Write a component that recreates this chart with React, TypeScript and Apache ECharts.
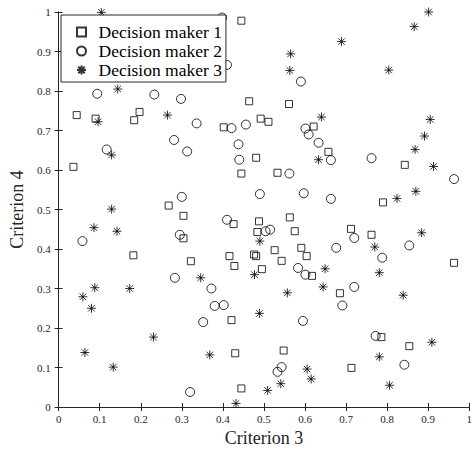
import React, { useEffect, useRef } from "react";
import * as echarts from "echarts";

const seriesNames = ["Decision maker 1", "Decision maker 2", "Decision maker 3"];

const maker1: number[][] = [
  [0.445, 0.978], [0.044, 0.739], [0.09, 0.73], [0.184, 0.726], [0.197, 0.747],
  [0.036, 0.608], [0.464, 0.774], [0.402, 0.708], [0.445, 0.591], [0.268, 0.51],
  [0.561, 0.767], [0.492, 0.73], [0.511, 0.722], [0.621, 0.71], [0.481, 0.631],
  [0.657, 0.646], [0.533, 0.593], [0.843, 0.613], [0.79, 0.518], [0.304, 0.484],
  [0.304, 0.427], [0.426, 0.463], [0.182, 0.384], [0.322, 0.369], [0.416, 0.382],
  [0.428, 0.357], [0.421, 0.22], [0.43, 0.136], [0.445, 0.047], [0.488, 0.47],
  [0.563, 0.48], [0.484, 0.443], [0.575, 0.445], [0.712, 0.451], [0.762, 0.436],
  [0.476, 0.386], [0.481, 0.382], [0.526, 0.397], [0.591, 0.403], [0.604, 0.382],
  [0.543, 0.37], [0.495, 0.349], [0.617, 0.332], [0.963, 0.365], [0.685, 0.288],
  [0.786, 0.177], [0.854, 0.154], [0.548, 0.143], [0.713, 0.099],
];

const maker2: number[][] = [
  [0.398, 0.986], [0.41, 0.866], [0.094, 0.793], [0.233, 0.791], [0.298, 0.78],
  [0.336, 0.718], [0.281, 0.676], [0.313, 0.647], [0.117, 0.652], [0.421, 0.706],
  [0.456, 0.715], [0.438, 0.665], [0.44, 0.626], [0.3, 0.532], [0.59, 0.824],
  [0.601, 0.705], [0.609, 0.69], [0.633, 0.669], [0.663, 0.625], [0.762, 0.63],
  [0.562, 0.591], [0.49, 0.539], [0.597, 0.541], [0.663, 0.527], [0.963, 0.577],
  [0.058, 0.42], [0.295, 0.436], [0.41, 0.474], [0.283, 0.327], [0.372, 0.3],
  [0.38, 0.256], [0.402, 0.258], [0.352, 0.215], [0.32, 0.038], [0.504, 0.445],
  [0.515, 0.449], [0.72, 0.428], [0.676, 0.403], [0.854, 0.409], [0.788, 0.378],
  [0.583, 0.352], [0.601, 0.335], [0.72, 0.304], [0.691, 0.257], [0.595, 0.218],
  [0.772, 0.18], [0.842, 0.107], [0.543, 0.101], [0.533, 0.089],
];

const maker3: number[][] = [
  [0.104, 0.999], [0.144, 0.805], [0.096, 0.722], [0.265, 0.739], [0.129, 0.638],
  [0.901, 1.0], [0.866, 0.963], [0.689, 0.925], [0.565, 0.894], [0.563, 0.852],
  [0.804, 0.853], [0.64, 0.734], [0.905, 0.728], [0.891, 0.686], [0.868, 0.652],
  [0.633, 0.626], [0.913, 0.609], [0.87, 0.546], [0.824, 0.528], [0.129, 0.501],
  [0.086, 0.454], [0.142, 0.445], [0.059, 0.279], [0.088, 0.302], [0.08, 0.25],
  [0.173, 0.3], [0.231, 0.177], [0.064, 0.138], [0.133, 0.101], [0.346, 0.327],
  [0.368, 0.132], [0.432, 0.009], [0.884, 0.441], [0.49, 0.42], [0.77, 0.405],
  [0.477, 0.335], [0.649, 0.35], [0.781, 0.34], [0.644, 0.304], [0.557, 0.289],
  [0.839, 0.283], [0.489, 0.237], [0.909, 0.164], [0.781, 0.127], [0.605, 0.096],
  [0.615, 0.071], [0.541, 0.059], [0.509, 0.042], [0.806, 0.055],
];

const xTickLabels = ["0", "0.1", "0.2", "0.3", "0.4", "0.5", "0.6", "0.7", "0.8", "0.9", "1"];
const yTickLabels = ["0", "0.1", "0.2", "0.3", "0.4", "0.5", "0.6", "0.7", "0.8", "0.9", "1"];

const FONT = "Liberation Serif";
const SQUARE = "path://M0,0L10,0L10,10L0,10Z";
const CIRCLE = "path://M10,5A5,5,0,1,1,0,5A5,5,0,1,1,10,5Z";
const ASTERISK =
  "path://M0,-5L0,5M-5,0L5,0M-3.6,-3.6L3.6,3.6M-3.6,3.6L3.6,-3.6";

export default function App() {
  const ref = useRef<HTMLDivElement>(null);
  useEffect(() => {
    if (!ref.current) return;
    const chart = echarts.init(ref.current, undefined, { renderer: "svg" });
    const axisLine = { show: true, lineStyle: { color: "#262626", width: 1 } };
    const tickStyle = { show: true, inside: true, length: 4, lineStyle: { color: "#262626", width: 1 } };
    const fmtX = (v: number) => xTickLabels[Math.round(v * 10)] ?? "";
    const fmtY = (v: number) => yTickLabels[Math.round(v * 10)] ?? "";
    const markerStyle = { color: "transparent", borderColor: "#000", borderWidth: 1 };
    chart.setOption({
      animation: false,
      backgroundColor: "#fff",
      grid: { left: 56, right: 1, top: 12, bottom: 43, containLabel: false },
      legend: {
        orient: "vertical",
        left: 61,
        top: 15,
        data: seriesNames,
        backgroundColor: "#fff",
        borderColor: "#262626",
        borderWidth: 1,
        borderRadius: 0,
        padding: [8, 4, 3, 15],
        itemGap: 1,
        itemWidth: 24,
        itemHeight: 9,
        textStyle: { fontFamily: FONT, fontSize: 17.5, color: "#000" },
      },
      xAxis: [
        {
          type: "value", min: 0, max: 1, interval: 0.1, position: "bottom",
          axisLine, axisTick: tickStyle, splitLine: { show: false },
          axisLabel: { formatter: fmtX, fontFamily: FONT, fontSize: 11, color: "#262626", margin: 6 },
          name: "Criterion 3", nameLocation: "middle", nameGap: 22,
          nameTextStyle: { fontFamily: FONT, fontSize: 18, color: "#262626" },
        },
        {
          type: "value", min: 0, max: 1, interval: 0.1, position: "top",
          axisLine, axisTick: tickStyle, splitLine: { show: false }, axisLabel: { show: false },
        },
      ],
      yAxis: [
        {
          type: "value", min: 0, max: 1, interval: 0.1, position: "left",
          axisLine, axisTick: tickStyle, splitLine: { show: false },
          axisLabel: { formatter: fmtY, fontFamily: FONT, fontSize: 11, color: "#262626", margin: 8 },
          name: "Criterion 4", nameLocation: "middle", nameGap: 26,
          nameTextStyle: { fontFamily: FONT, fontSize: 18, color: "#262626" },
        },
        {
          type: "value", min: 0, max: 1, interval: 0.1, position: "right",
          axisLine, axisTick: tickStyle, splitLine: { show: false }, axisLabel: { show: false },
        },
      ],
      series: [
        {
          name: seriesNames[0], type: "scatter", data: maker1, symbol: SQUARE, symbolSize: 7,
          itemStyle: markerStyle, emphasis: { disabled: true },
        },
        {
          name: seriesNames[1], type: "scatter", data: maker2, symbol: CIRCLE, symbolSize: 9,
          itemStyle: markerStyle, emphasis: { disabled: true },
        },
        {
          name: seriesNames[2], type: "scatter", data: maker3, symbol: ASTERISK, symbolSize: 9,
          itemStyle: markerStyle, emphasis: { disabled: true },
        },
      ],
    });
    return () => chart.dispose();
  }, []);
  return <div ref={ref} style={{ width: 475, height: 452, position: "absolute", left: 0, top: 0 }} />;
}
